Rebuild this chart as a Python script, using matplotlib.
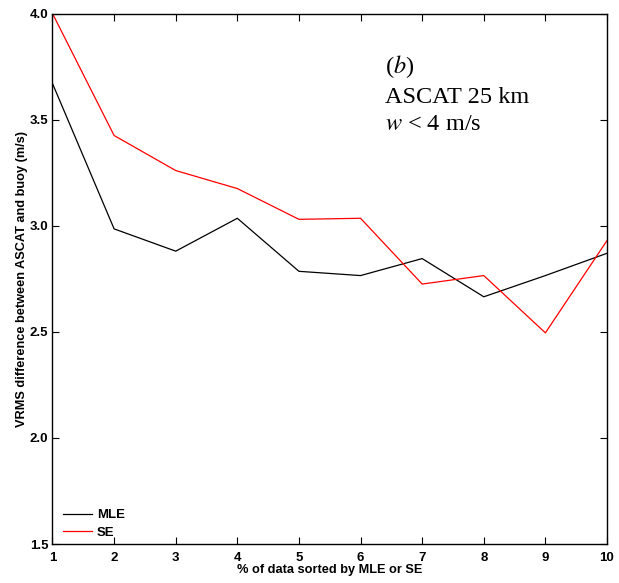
import matplotlib
matplotlib.use("Agg")
import matplotlib.pyplot as plt

# % of data sorted, and VRMS difference for each ranking
pct = [1, 2, 3, 4, 5, 6, 7, 8, 9, 10]
vrms_mle = [3.67, 2.985, 2.88, 3.035, 2.785, 2.765, 2.845, 2.665, 2.765, 2.87]
vrms_se = [4.0, 3.425, 3.26, 3.175, 3.03, 3.035, 2.725, 2.765, 2.495, 2.93]
yticks = [1.5, 2.0, 2.5, 3.0, 3.5, 4.0]

plt.rcParams['font.family'] = ['Liberation Sans', 'DejaVu Sans']

fig = plt.figure(figsize=(6.19, 5.83), dpi=100)
ax = fig.add_axes([52.5 / 619, 1 - 544 / 583, (607 - 52.5) / 619, (544 - 13.5) / 583])

ax.plot(pct, vrms_mle, color='black', lw=0.9, label='MLE')
ax.plot(pct, vrms_se, color='red', lw=0.9, label='SE')

ax.set_xlim(1, 10)
ax.set_ylim(1.5, 4.0)
ax.set_xticks(pct)
ax.set_yticks(yticks)
ax.set_yticklabels(['%.1f' % v for v in yticks])
ax.tick_params(direction='in', top=True, right=True, length=5, width=0.8,
               labelsize=9.5)
ax.tick_params(axis='x', pad=6)
ax.tick_params(axis='y', pad=3)
for lab in ax.get_xticklabels() + ax.get_yticklabels():
    lab.set_fontweight('bold')
for s in ax.spines.values():
    s.set_linewidth(1.0)

ax.set_xlabel('% of data sorted by MLE or SE', fontsize=9.2, fontweight='bold', labelpad=0)
ax.set_ylabel('VRMS difference between ASCAT and buoy (m/s)', fontsize=9.2,
              fontweight='bold', labelpad=1.5)

ax.text(0.599, 0.926, '($b$)\nASCAT 25 km\n$w$ < 4 m/s', transform=ax.transAxes,
        ha='left', va='top', fontsize=17.5, family='Liberation Serif',
        linespacing=1.43, math_fontfamily='stix')

ax.legend(loc='lower left', frameon=False, prop={'weight': 'bold', 'size': 9.5},
          handlelength=2.2, handletextpad=0.35, labelspacing=0.4,
          borderaxespad=0.0, bbox_to_anchor=(0.01, 0.0))

fig.savefig('out.png', dpi=100)
